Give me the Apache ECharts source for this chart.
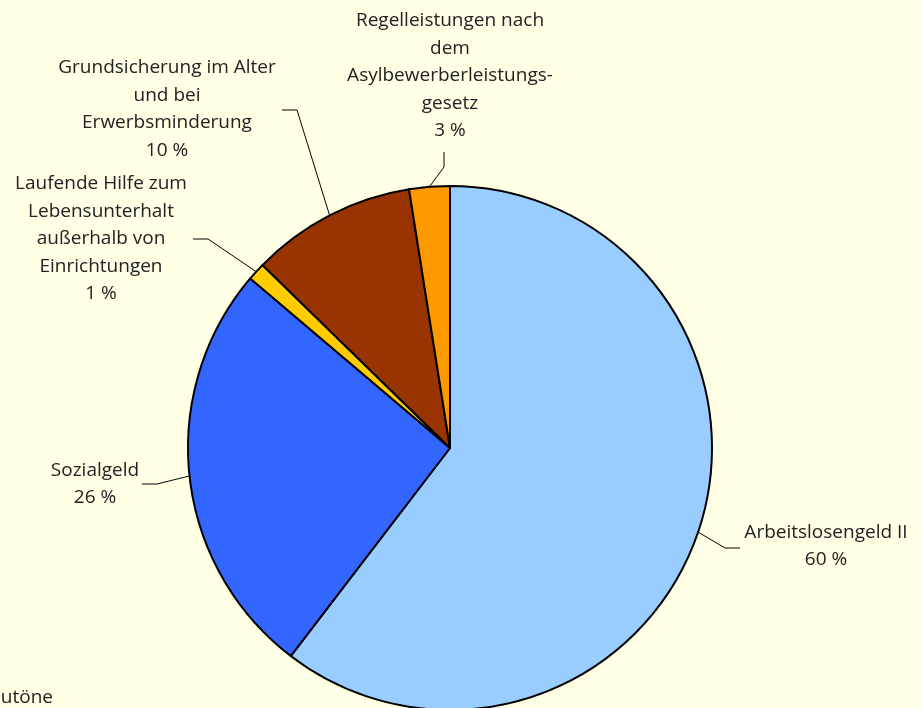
<!DOCTYPE html>
<html>
<head>
<meta charset="utf-8">
<script src="https://cdn.jsdelivr.net/npm/echarts@6/dist/echarts.min.js"></script>
<style>
html, body { margin: 0; padding: 0; background: #FFFFE6; }
#main { width: 922px; height: 708px; }
</style>
</head>
<body>
<div id="main"></div>
<script>
// Anteile in Prozent (ab 12 Uhr im Uhrzeigersinn)
var names = [
    'Arbeitslosengeld II',
    'Sozialgeld',
    'Laufende Hilfe zum\nLebensunterhalt\naußerhalb von\nEinrichtungen',
    'Grundsicherung im Alter\nund bei\nErwerbsminderung',
    'Regelleistungen nach\ndem\nAsylbewerberleistungs-\ngesetz'
];
var values = [60.4, 25.8, 1.1, 10.2, 2.5];
var colors = ['#99CCFF', '#3366FF', '#FFCC00', '#993300', '#FF9900'];

// Lage der Beschriftungen: Mittelpunkt Text, Knick- und Endpunkt der Linie
var labelPos = [
    {x: 826, y: 546, bend: [725, 548], end: [740, 548]},
    {x: 95,  y: 484, bend: [157, 484], end: [142, 484]},
    {x: 101, y: 239, bend: [208, 239], end: [193, 239]},
    {x: 167, y: 109, bend: [297, 110], end: [282, 110]},
    {x: 450, y: 76,  bend: [444, 167], end: [444, 152]}
];

var data = [];
for (var i = 0; i < names.length; i++) {
    data.push({name: names[i], value: values[i], itemStyle: {color: colors[i]}});
}

var chart = echarts.init(document.getElementById('main'));
chart.setOption({
    backgroundColor: '#FFFFE6',
    animation: false,
    graphic: [{
        type: 'text',
        x: 53,
        y: 698,
        style: {
            text: 'Grautöne',
            fill: '#222',
            align: 'right',
            verticalAlign: 'middle',
            font: '19px "Open Sans", sans-serif'
        }
    }],
    series: [{
        type: 'pie',
        center: [450, 448],
        radius: [0, 262],
        startAngle: 90,
        clockwise: true,
        data: data,
        itemStyle: {borderColor: '#000', borderWidth: 2},
        label: {
            show: true,
            position: 'outside',
            color: '#222',
            fontFamily: 'Open Sans',
            fontSize: 19,
            lineHeight: 27.5,
            align: 'center',
            overflow: 'none',
            width: 400,
            formatter: function (p) {
                return p.name + '\n' + Math.round(p.value) + ' %';
            }
        },
        labelLine: {
            show: true,
            lineStyle: {color: '#000', width: 1}
        },
        labelLayout: function (params) {
            var lp = labelPos[params.dataIndex];
            var start = params.labelLinePoints ? params.labelLinePoints[0] : lp.bend;
            return {
                x: lp.x,
                y: lp.y,
                align: 'center',
                verticalAlign: 'middle',
                labelLinePoints: [start, lp.bend, lp.end]
            };
        }
    }]
});
</script>
</body>
</html>
